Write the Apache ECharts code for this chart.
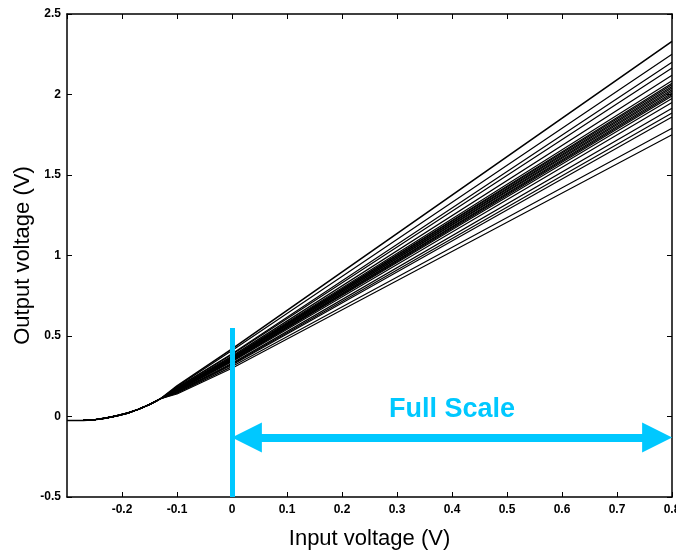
<!DOCTYPE html>
<html>
<head>
<meta charset="utf-8">
<script src="https://cdn.jsdelivr.net/npm/echarts@6/dist/echarts.min.js"></script>
<style>
  html, body { margin: 0; padding: 0; background: #fff; }
  #chart { width: 676px; height: 556px; }
</style>
</head>
<body>
<div id="chart"></div>
<script>
// shared knee of all the transfer curves (input V, output V)
const kneePts = [
  [-0.3, -0.025], [-0.27, -0.024], [-0.25, -0.02], [-0.23, -0.01], [-0.21, 0.004],
  [-0.19, 0.021], [-0.17, 0.045], [-0.15, 0.075], [-0.13, 0.11]
]
// per curve: output at -0.1 V, 0 V and 0.8 V input
const outAtM01 = [0.19, 0.185, 0.18, 0.178, 0.175, 0.172, 0.17, 0.17, 0.168, 0.168, 0.166,
  0.165, 0.164, 0.163, 0.162, 0.161, 0.158, 0.155, 0.152, 0.15, 0.145, 0.14]
const outAt0 = [0.42, 0.41, 0.39, 0.385, 0.375, 0.37, 0.365, 0.365, 0.36, 0.36, 0.355,
  0.355, 0.35, 0.35, 0.345, 0.345, 0.34, 0.33, 0.325, 0.32, 0.31, 0.30]
const outAt08 = [2.33, 2.25, 2.20, 2.165, 2.12, 2.085, 2.07, 2.06, 2.05, 2.04, 2.03,
  2.02, 2.01, 2.00, 1.99, 1.975, 1.95, 1.915, 1.885, 1.86, 1.79, 1.75]
const xTicks = [-0.3, -0.2, -0.1, 0, 0.1, 0.2, 0.3, 0.4, 0.5, 0.6, 0.7, 0.8]
const yTicks = [-0.5, 0, 0.5, 1, 1.5, 2, 2.5]
// annotation: marker line top, arrow level, arrow shaft ends (heads reach 0 and 0.8)
const markX = 0
const markTop = 0.55
const arrowY = -0.13
const shaftFrom = 0.027, shaftTo = 0.773

const blue = '#00c8ff'
const chart = echarts.init(document.getElementById('chart'))

let series = outAt0.map((v0, i) => {
  return {
    type: 'line',
    data: kneePts.concat([[-0.1, outAtM01[i]], [0, v0], [0.8, outAt08[i]]]),
    showSymbol: false,
    silent: true,
    lineStyle: { color: '#000', width: i == 0 ? 1.6 : 1.2 },
    z: 2
  }
})

series.push({
  type: 'line',
  data: [],
  z: 5,
  silent: true,
  markLine: {
    silent: true,
    animation: false,
    data: [
      [
        { coord: [markX, markTop], symbol: 'none', label: { show: false } },
        { coord: [markX, yTicks[0]], symbol: 'none' }
      ],
      [
        { coord: [shaftFrom, arrowY], symbol: 'triangle', symbolSize: [30, 30], lineStyle: { width: 8 } },
        { coord: [shaftTo, arrowY], symbol: 'triangle', symbolSize: [30, 30] }
      ]
    ],
    lineStyle: { color: blue, width: 5, type: 'solid' },
    label: {
      show: true,
      position: 'middle',
      formatter: 'Full Scale',
      color: blue,
      fontFamily: 'Liberation Sans',
      fontWeight: 'bold',
      fontSize: 27,
      distance: 14
    }
  }
})

const tickLab = {
  color: '#000',
  fontFamily: 'Liberation Sans',
  fontWeight: 'bold',
  fontSize: 12
}
const frameLine = { show: true, onZero: false, lineStyle: { color: '#000', width: 1.5 } }
const frameTick = { show: true, inside: true, length: 5, lineStyle: { color: '#000' } }

chart.setOption({
  animation: false,
  grid: { left: 67, right: 4, top: 14, bottom: 59, outerBoundsMode: 'none', containLabel: false },
  xAxis: [
    {
      type: 'value', min: xTicks[0], max: xTicks[xTicks.length - 1], interval: 0.1,
      name: 'Input voltage (V)', nameLocation: 'middle', nameGap: 31, nameMoveOverlap: false,
      nameTextStyle: { fontFamily: 'Liberation Sans', fontSize: 22, color: '#000' },
      axisLine: frameLine,
      axisTick: frameTick,
      axisLabel: Object.assign({ margin: 7, showMinLabel: false, hideOverlap: false,
        formatter: v => (Math.round(v * 10) / 10).toString() }, tickLab),
      splitLine: { show: false }
    },
    {
      type: 'value', position: 'top', min: xTicks[0], max: xTicks[xTicks.length - 1], interval: 0.1,
      axisLine: frameLine,
      axisTick: frameTick,
      axisLabel: { show: false },
      splitLine: { show: false }
    }
  ],
  yAxis: [
    {
      type: 'value', min: yTicks[0], max: yTicks[yTicks.length - 1], interval: 0.5,
      name: 'Output voltage (V)', nameLocation: 'middle', nameGap: 33, nameMoveOverlap: false,
      nameTextStyle: { fontFamily: 'Liberation Sans', fontSize: 22, color: '#000' },
      axisLine: frameLine,
      axisTick: frameTick,
      axisLabel: Object.assign({ margin: 6 }, tickLab),
      splitLine: { show: false }
    },
    {
      type: 'value', position: 'right', min: yTicks[0], max: yTicks[yTicks.length - 1], interval: 0.5,
      axisLine: frameLine,
      axisTick: frameTick,
      axisLabel: { show: false },
      splitLine: { show: false }
    }
  ],
  series: series
})
</script>
</body>
</html>
